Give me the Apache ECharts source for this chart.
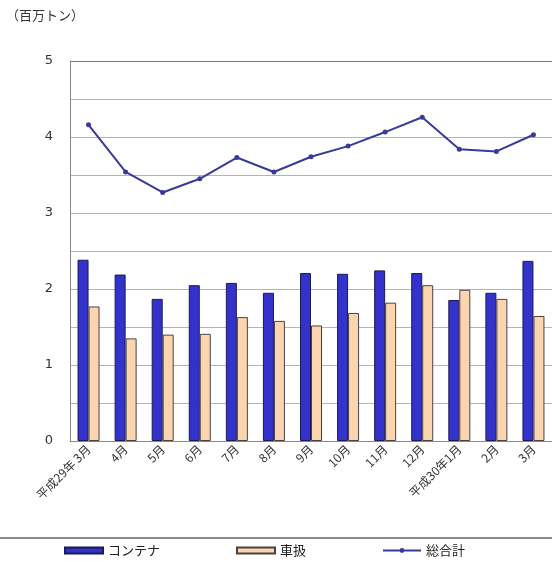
<!DOCTYPE html>
<html><head><meta charset="utf-8">
<script src="https://cdn.jsdelivr.net/npm/echarts@6/dist/echarts.min.js"></script>
<style>html,body{margin:0;padding:0;background:#fff}#c{width:552px;height:562px}</style>
</head><body><div id="c"></div>
<script>
const categories = ['平成29年 3月','4月','5月','6月','7月','8月','9月','10月','11月','12月','平成30年1月','2月','3月'];
const container = [2.385, 2.19, 1.87, 2.05, 2.08, 1.95, 2.21, 2.20, 2.245, 2.21, 1.855, 1.95, 2.37];
const carHandled = [1.77, 1.35, 1.40, 1.41, 1.63, 1.58, 1.52, 1.685, 1.82, 2.05, 1.99, 1.87, 1.645];
const total = [4.16, 3.54, 3.27, 3.45, 3.73, 3.54, 3.74, 3.88, 4.065, 4.26, 3.84, 3.81, 4.03];
const yTicks = [0, 1, 2, 3, 4, 5];

const chart = echarts.init(document.getElementById('c'), null, {renderer: 'canvas'});
const jp = '"Noto Sans CJK JP", "DejaVu Sans", sans-serif';
const gridColors = ['#b4b4b4','#b4b4b4','#b4b4b4','#b4b4b4','#b4b4b4','#b4b4b4','#b4b4b4','#b4b4b4','#b4b4b4','#b4b4b4','#777777'];
chart.setOption({
  animation: false,
  backgroundColor: '#fff',
  graphic: [
    {type: 'text', left: 6, top: 9, style: {text: '（百万トン）', font: '13px ' + jp, fill: '#333'}},
    {type: 'rect', shape: {x: 0, y: 537, width: 552, height: 2}, style: {fill: '#8a8a8a'}}
  ],
  legend: {
    bottom: 0, left: 59, itemGap: 76, itemWidth: 38, itemHeight: 6,
    textStyle: {fontFamily: jp, fontSize: 13, color: '#222'},
    data: [
      {name: 'コンテナ', icon: 'rect'},
      {name: '車扱', icon: 'rect'},
      {name: '総合計'}
    ]
  },
  grid: {left: 70, top: 61, right: -3, bottom: 121, containLabel: false},
  xAxis: {
    type: 'category', data: categories,
    axisLine: {lineStyle: {color: '#888', width: 1}},
    axisTick: {show: false},
    axisLabel: {rotate: 45, interval: 0, fontFamily: jp, fontSize: 12, color: '#333', margin: 6}
  },
  yAxis: {
    type: 'value', min: 0, max: 5, interval: 0.5,
    axisLine: {show: true, lineStyle: {color: '#888'}},
    axisTick: {show: false},
    axisLabel: {
      fontFamily: '"DejaVu Sans", sans-serif', fontSize: 13, color: '#333', margin: 17,
      formatter: v => yTicks.indexOf(v) >= 0 ? String(v) : ''
    },
    splitLine: {lineStyle: {color: gridColors, width: 1}}
  },
  series: [
    {name: 'コンテナ', type: 'bar', data: container, barWidth: 11, barGap: '0%',
     itemStyle: {color: '#3333CC', borderColor: '#1a1a55', borderWidth: 1}},
    {name: '車扱', type: 'bar', data: carHandled, barWidth: 11,
     itemStyle: {color: '#FBD4B0', borderColor: '#4a4040', borderWidth: 1}},
    {name: '総合計', type: 'line', data: total, symbol: 'circle', symbolSize: 5,
     lineStyle: {color: '#3a3a99', width: 2}, itemStyle: {color: '#3a3a99'}}
  ]
});
</script></body></html>
